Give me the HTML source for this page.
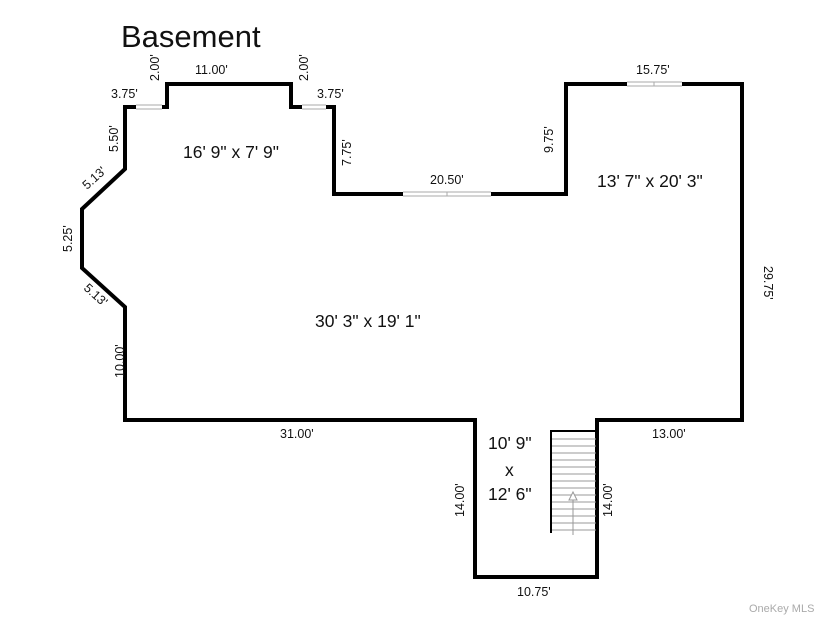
<!DOCTYPE html>
<html><head><style>body{margin:0;background:#fff}svg{display:block}text{font-family:"Liberation Sans",sans-serif;fill:#111}</style></head><body>
<svg width="825" height="619" viewBox="0 0 825 619">
<text x="121" y="47" font-size="31">Basement</text>
<path d="M125,420 L125,307 L82,268 L82,209 L125,169 L125,107 L167,107 L167,84 L291,84 L291,107 L334,107 L334,194 L566,194 L566,84 L742,84 L742,420 L597,420 L597,577 L475,577 L475,420 Z" fill="none" stroke="#000" stroke-width="4" stroke-linejoin="miter"/>
<g stroke="#aaa" stroke-width="1" fill="#fff">
<rect x="136" y="105" width="26" height="4" stroke="none"/><line x1="136" y1="105" x2="162" y2="105"/><line x1="136" y1="109" x2="162" y2="109"/>
<rect x="302" y="105" width="24" height="4" stroke="none"/><line x1="302" y1="105" x2="326" y2="105"/><line x1="302" y1="109" x2="326" y2="109"/>
<rect x="403" y="192" width="88" height="4" stroke="none"/><line x1="403" y1="192" x2="491" y2="192"/><line x1="403" y1="196" x2="491" y2="196"/><line x1="447" y1="192" x2="447" y2="196"/>
<rect x="627" y="82" width="55" height="4" stroke="none"/><line x1="627" y1="82" x2="682" y2="82"/><line x1="627" y1="86" x2="682" y2="86"/><line x1="654" y1="82" x2="654" y2="86"/>
</g>
<g stroke="#999" stroke-width="1">
<line x1="552" y1="439" x2="596" y2="439"/><line x1="552" y1="446" x2="596" y2="446"/><line x1="552" y1="453" x2="596" y2="453"/><line x1="552" y1="460" x2="596" y2="460"/><line x1="552" y1="467" x2="596" y2="467"/><line x1="552" y1="474" x2="596" y2="474"/><line x1="552" y1="481" x2="596" y2="481"/><line x1="552" y1="488" x2="596" y2="488"/><line x1="552" y1="495" x2="596" y2="495"/><line x1="552" y1="502" x2="596" y2="502"/><line x1="552" y1="509" x2="596" y2="509"/><line x1="552" y1="516" x2="596" y2="516"/><line x1="552" y1="523" x2="596" y2="523"/><line x1="552" y1="530" x2="596" y2="530"/>
<line x1="573" y1="535" x2="573" y2="494"/><path d="M573,492 L569,500 L577,500 Z" fill="#fff"/>
</g>
<path d="M551,533 L551,431 L596,431" fill="none" stroke="#000" stroke-width="2"/>
<g font-size="12.5">
<text x="111" y="98">3.75'</text><text x="195" y="74">11.00'</text><text x="317" y="98">3.75'</text>
<text x="430" y="184">20.50'</text><text x="636" y="74">15.75'</text>
<text x="280" y="438">31.00'</text><text x="652" y="438">13.00'</text><text x="517" y="596">10.75'</text>
<text transform="translate(159,81) rotate(-90)">2.00'</text>
<text transform="translate(308,81) rotate(-90)">2.00'</text>
<text transform="translate(118,152) rotate(-90)">5.50'</text>
<text transform="translate(351,166) rotate(-90)">7.75'</text>
<text transform="translate(553,153) rotate(-90)">9.75'</text>
<text transform="translate(764,266) rotate(90)">29.75'</text>
<text transform="translate(72,252) rotate(-90)">5.25'</text>
<text transform="translate(124,378) rotate(-90)">10.00'</text>
<text transform="translate(464,517) rotate(-90)">14.00'</text>
<text transform="translate(612,517) rotate(-90)">14.00'</text>
<text transform="translate(87,190) rotate(-42)">5.13'</text>
<text transform="translate(83,289) rotate(42)">5.13'</text>
</g>
<g font-size="17.5">
<text x="183" y="158">16' 9" x 7' 9"</text>
<text x="597" y="187">13' 7" x 20' 3"</text>
<text x="315" y="327">30' 3" x 19' 1"</text>
<text x="488" y="449">10' 9"</text><text x="505" y="476">x</text><text x="488" y="500">12' 6"</text>
</g>
<text x="749" y="612" font-size="11" style="fill:#aaa">OneKey MLS</text>
</svg></body></html>
